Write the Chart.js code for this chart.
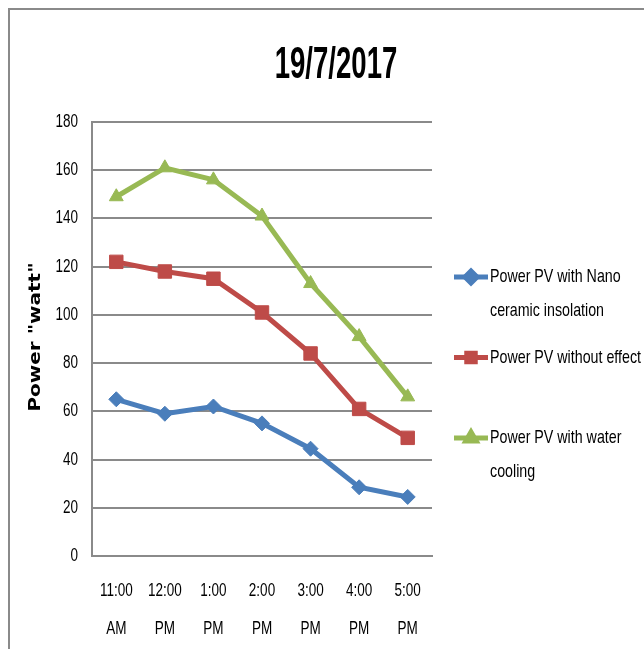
<!DOCTYPE html>
<html>
<head>
<meta charset="utf-8">
<script src="https://cdn.jsdelivr.net/npm/chart.js@4/dist/chart.umd.min.js"></script>
<style>
  body { margin: 0; background: #fff; }
  #wrap { position: absolute; left: 0; top: 0; width: 644px; height: 649px; }
</style>
</head>
<body>
<div id="wrap"><canvas id="grafico" width="644" height="649"></canvas></div>
<script>
const titulo = "19/7/2017";
const tituloEixoY = 'Power "watt"';
const horas = [["11:00", "AM"], ["12:00", "PM"], ["1:00", "PM"], ["2:00", "PM"], ["3:00", "PM"], ["4:00", "PM"], ["5:00", "PM"]];
const nomes = [["Power PV with Nano", "ceramic insolation"], ["Power PV without effect"], ["Power PV with water", "cooling"]];
const nano = [65, 59, 62, 55, 44.5, 28.5, 24.5];
const semEfeito = [122, 118, 115, 101, 84, 61, 49];
const agua = [149, 161, 156, 141, 113, 91, 66];
const cores = ["#4A7EBB", "#BE4B48", "#98B954"];
const marcadores = ["rectRot", "rect", "triangle"];
const tamanhos = [7.5, 9.5, 8];
const yTicks = [0, 20, 40, 60, 80, 100, 120, 140, 160, 180];

const fonte = "'Liberation Sans', Arial, sans-serif";
const estreito = 0.75; // texto "apertado" como no original

function textoEstreito(c, txt, x, y, sx) {
  c.save();
  c.translate(x, y);
  c.scale(sx, 1);
  c.fillText(txt, 0, 0);
  c.restore();
}

/* moldura, titulo, rotulos e legenda desenhados a mao */
const extras = {
  id: "extras",
  beforeDraw(chart) {
    const c = chart.ctx;
    c.save();
    c.fillStyle = "#fff";
    c.fillRect(0, 0, chart.width, chart.height);
    c.strokeStyle = "#8a8a8a";
    c.lineWidth = 2;
    c.beginPath();
    c.moveTo(9, chart.height);
    c.lineTo(9, 9);
    c.lineTo(chart.width, 9);
    c.stroke();
    c.restore();
  },
  afterDraw(chart) {
    const c = chart.ctx;
    const area = chart.chartArea;
    const sx = chart.scales.x;
    const sy = chart.scales.y;

    // titulo
    c.save();
    c.fillStyle = "#000";
    c.textAlign = "center";
    c.textBaseline = "alphabetic";
    c.font = "bold 34px " + fonte;
    c.translate(336, 78);
    c.scale(0.81, 1.3);
    c.fillText(titulo, 0, 0);
    c.restore();

    // titulo do eixo y
    c.save();
    c.fillStyle = "#000";
    c.textAlign = "center";
    c.textBaseline = "middle";
    c.font = "bold 20px 'DejaVu Sans', sans-serif";
    c.translate(36, (area.top + area.bottom) / 2 - 2);
    c.rotate(-Math.PI / 2);
    c.scale(1, 0.78);
    c.fillText(tituloEixoY, 0, 0);
    c.restore();

    // rotulos dos eixos
    c.save();
    c.fillStyle = "#000";
    c.font = "18px " + fonte;
    c.textBaseline = "middle";
    c.textAlign = "right";
    sy.ticks.forEach(t => {
      textoEstreito(c, String(t.value), area.left - 14, sy.getPixelForValue(t.value), estreito);
    });
    c.textAlign = "center";
    horas.forEach((linhas, i) => {
      const x = sx.getPixelForTick(i);
      linhas.forEach((l, k) => textoEstreito(c, l, x, area.bottom + 35 + k * 38, estreito));
    });
    c.restore();

    // legenda
    c.save();
    c.font = "19px " + fonte;
    c.textBaseline = "middle";
    c.textAlign = "left";
    chart.data.datasets.forEach((ds, i) => {
      const y0 = 277 + i * 80.5;
      c.strokeStyle = ds.borderColor;
      c.lineWidth = 5;
      c.beginPath();
      c.moveTo(454, y0);
      c.lineTo(488, y0);
      c.stroke();
      Chart.helpers.drawPoint(c, {
        pointStyle: ds.pointStyle, radius: 6, rotation: 0, borderWidth: 1
      }, 471, y0);
      c.fillStyle = ds.borderColor;
      c.fill();
      c.fillStyle = "#000";
      ds.label.forEach((linha, k) => textoEstreito(c, linha, 490, y0 + k * 34, estreito));
    });
    c.restore();
  }
};

const series = [nano, semEfeito, agua];

new Chart(document.getElementById("grafico"), {
  type: "line",
  data: {
    labels: horas,
    datasets: series.map((valores, i) => ({
      label: nomes[i],
      data: valores,
      borderColor: cores[i],
      backgroundColor: cores[i],
      borderWidth: 5,
      pointStyle: marcadores[i],
      pointRadius: tamanhos[i],
      pointBorderWidth: 1,
      pointBorderColor: cores[i],
      tension: 0
    }))
  },
  options: {
    responsive: false,
    animation: false,
    layout: { padding: { left: 0, right: 212, top: 122, bottom: 0 } },
    plugins: {
      legend: { display: false },
      title: { display: false },
      tooltip: { enabled: false }
    },
    scales: {
      x: {
        offset: true,
        afterFit(scale) { scale.height = 649 - 556; },
        grid: { display: false, drawTicks: false },
        border: { color: "#8a8a8a", width: 2 },
        ticks: {
          color: "rgba(0,0,0,0)",
          padding: 18,
          maxRotation: 0,
          autoSkip: false,
          font: { family: fonte, size: 14 }
        }
      },
      y: {
        min: 0,
        max: 180,
        afterFit(scale) { scale.width = 92; },
        afterBuildTicks(scale) { scale.ticks = yTicks.map(v => ({ value: v })); },
        grid: { color: "#8a8a8a", lineWidth: 2, drawTicks: false },
        border: { color: "#8a8a8a", width: 2 },
        ticks: {
          color: "rgba(0,0,0,0)",
          padding: 14,
          font: { family: fonte, size: 14 }
        }
      }
    }
  },
  plugins: [extras]
});
</script>
</body>
</html>
